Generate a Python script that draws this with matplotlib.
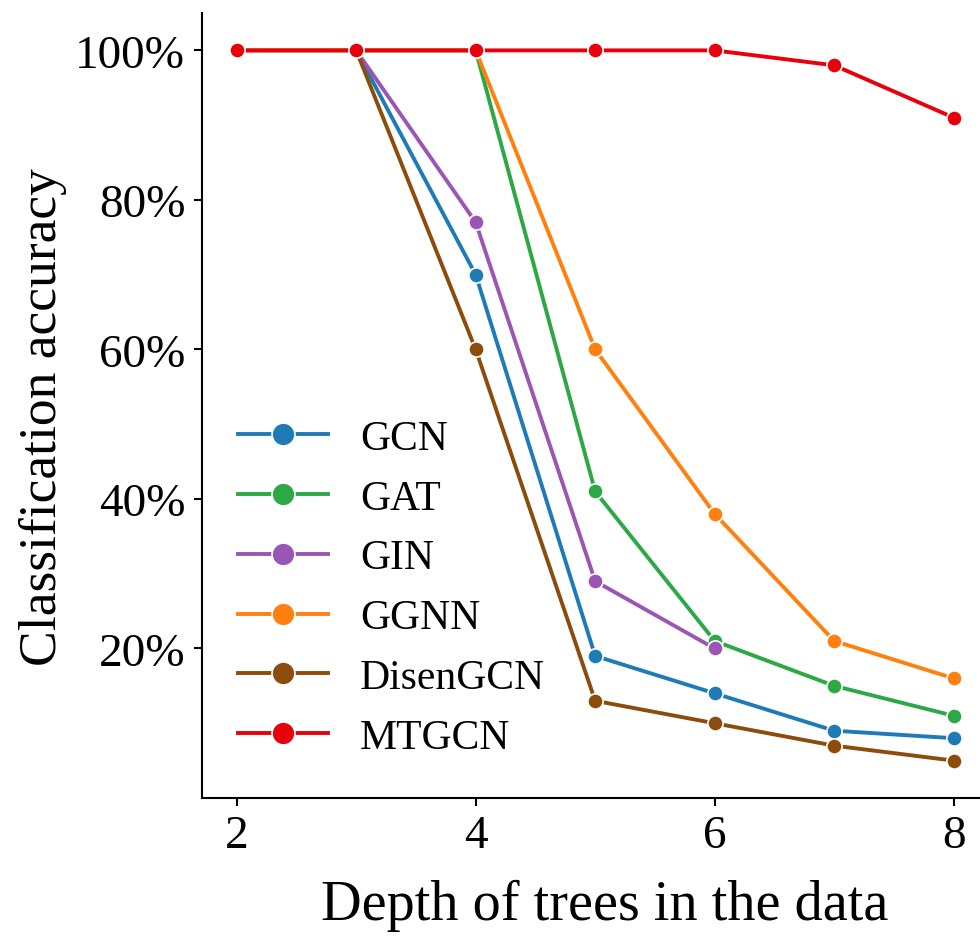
import matplotlib
matplotlib.use('Agg')
import matplotlib.pyplot as plt
from matplotlib.ticker import PercentFormatter

# Daten
depths = [2, 3, 4, 5, 6, 7, 8]
gcn = [None, 100, 70, 19, 14, 9, 8]
gat = [100, 100, 100, 41, 21, 15, 11]
gin = [None, 100, 77, 29, 20, None, None]
ggnn = [100, 100, 100, 60, 38, 21, 16]
disengcn = [None, 100, 60, 13, 10, 7, 5]
mtgcn = [100, 100, 100, 100, 100, 98, 91]

names = ["GCN", "GAT", "GIN", "GGNN", "DisenGCN", "MTGCN"]
series = [gcn, gat, gin, ggnn, disengcn, mtgcn]
colors = ["#1f7bb6", "#2ca844", "#9b55b5", "#ff800e", "#8c4c0c", "#e8000b"]

plt.rcParams['font.family'] = ['Liberation Serif', 'DejaVu Serif']

fig = plt.figure(figsize=(9.8, 9.45), dpi=100)
ax = fig.add_axes([202 / 980, 1 - 799 / 945, 778 / 980, 785 / 945])

for name, vals, c in zip(names, series, colors):
    xs = [d for d, v in zip(depths, vals) if v is not None]
    ys = [v for v in vals if v is not None]
    ax.plot(xs, ys, color=c, lw=2.8, marker='o', ms=11,
            mec='white', mew=1.2, label=name)

ax.set_xlim(1.71, 8.22)
ax.set_ylim(0, 105)
ax.set_xticks([2, 4, 6, 8])
ax.set_yticks([20, 40, 60, 80, 100])
ax.yaxis.set_major_formatter(PercentFormatter(decimals=0))
ax.tick_params(labelsize=34, length=6, width=1.5, pad=6)
for s in ['top', 'right']:
    ax.spines[s].set_visible(False)
for s in ['left', 'bottom']:
    ax.spines[s].set_linewidth(1.5)

ax.set_xlabel("Depth of trees in the data", fontsize=40.5)
ax.set_ylabel("Classification accuracy", fontsize=38.5)
ax.xaxis.set_label_coords(0.518, -0.103)
ax.yaxis.set_label_coords(-0.173, 0.487)

ax.legend(loc='upper left', bbox_to_anchor=(0.0, 0.528), frameon=False,
          fontsize=30, handlelength=2.16, handletextpad=0.77,
          markerscale=1.5, labelspacing=0.51, borderaxespad=0.46)

fig.savefig("out.png", dpi=100)
